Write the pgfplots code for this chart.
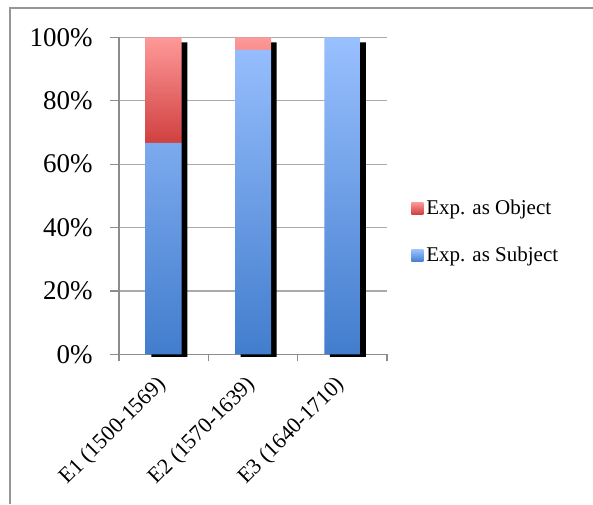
\documentclass[border=0pt]{standalone}
\usepackage{fontspec}
\setmainfont{Liberation Serif}
\usepackage{pgfplots}
\usepackage{pgfplotstable}
\pgfplotsset{compat=1.18}
\definecolor{bluetop}{RGB}{153,192,255}
\definecolor{bluebot}{RGB}{66,125,205}
\definecolor{redtop}{RGB}{255,153,153}
\definecolor{redbot}{RGB}{208,64,64}
\definecolor{axisgray}{RGB}{140,140,140}
\definecolor{gridgray}{RGB}{170,170,170}
\definecolor{framegray}{RGB}{150,150,150}

\pgfplotstableread{
x subj obj
0 66.7 33.3
1 96.0 4.0
2 100 0
}\datatable

\begin{document}
\begin{tikzpicture}
\path[use as bounding box] (0,0) rectangle (296.5pt,252pt);
\draw[framegray, line width=0.6pt] (5pt,0) -- (5pt,248pt) -- (296.5pt,248pt);

\pgfplotsset{base/.style={scale only axis, width=134pt, height=158.5pt,
  xmin=-0.5, xmax=2.5, ymin=0, ymax=100, anchor=south west}}

% grid, axis lines, ticks, labels
\begin{axis}[base, at={(59.5pt,74.85pt)},
  axis x line*=bottom, axis y line*=left,
  axis line style={axisgray, line width=0.6pt, -},
  ytick={0,20,40,60,80,100},
  yticklabels={0\%,20\%,40\%,60\%,80\%,100\%},
  ymajorgrids, major grid style={gridgray, line width=0.6pt},
  xtick={0,1,2},
  xticklabels={E1 (1500-1569),E2 (1570-1639),E3 (1640-1710)},
  minor xtick={-0.5,0.5,1.5,2.5},
  tick align=outside,
  major tick length=4.5pt, minor tick length=3.5pt,
  tick style={axisgray, line width=0.6pt},
  major x tick style={draw=none},
  yticklabel style={font=\fontsize{13.5}{15}\selectfont, anchor=east, inner sep=0pt, xshift=-8.5pt},
  xticklabel style={font=\fontsize{11}{13}\selectfont, inner sep=0pt, xshift=-4pt, yshift=-5.5pt, rotate=45, anchor=north east},
]
\addplot[draw=none, forget plot] coordinates {(0,0)};
\end{axis}

% shadows
\begin{axis}[base, at={(62.3pt,73.6pt)}, hide axis, clip=false]
\addplot[ybar, bar width=18pt, fill=black, draw=none] coordinates {(0,99.2) (1,99.2) (2,99.2)};
\end{axis}

% bars
\begin{axis}[base, at={(59.5pt,74.85pt)}, hide axis, clip=false,
  ybar stacked, bar width=18pt,
  reverse legend,
  legend style={at={(1.0896,0.3858)}, anchor=west, draw=none, fill=none,
    font=\fontsize{10.5}{12}\selectfont, row sep=12pt, inner sep=0pt,
    nodes={inner sep=1.5pt}},
  legend cell align=left,
  sqleg/.style={legend image code/.code={\path[##1] (0pt,-3pt) rectangle (6pt,3pt);}},
]
\addplot[draw=none, top color=bluetop, bottom color=bluebot, sqleg] table[x=x, y=subj]{\datatable};
\addplot[draw=none, top color=redtop, bottom color=redbot, sqleg] table[x=x, y=obj]{\datatable};
\legend{Exp. as Subject, Exp. as Object}
\end{axis}
\end{tikzpicture}
\end{document}
